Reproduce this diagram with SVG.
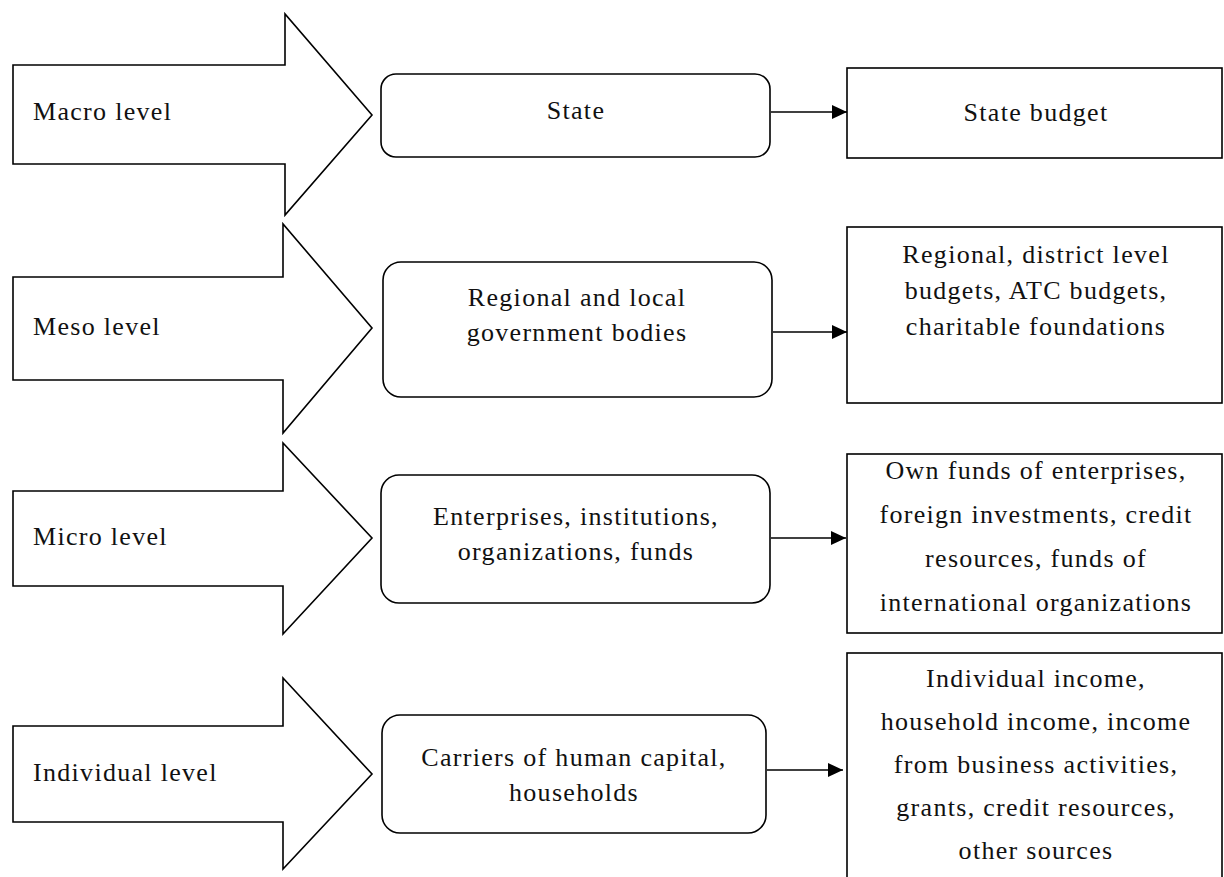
<svg xmlns="http://www.w3.org/2000/svg" width="1224" height="877" viewBox="0 0 1224 877">
  <defs>
    <marker id="head" markerUnits="userSpaceOnUse" markerWidth="16" markerHeight="14" refX="15" refY="7" orient="auto">
      <path d="M0,0 L15,7 L0,14 Z" fill="#000"/>
    </marker>
  </defs>
  <style>
    .shape { fill: #fff; stroke: #000; stroke-width: 1.6; }
    .lbl { font-family: "Liberation Serif", "Times New Roman", serif; font-size: 26px; letter-spacing: 1.3px; fill: #111; }
    .mid { text-anchor: middle; }
    .link { stroke: #000; stroke-width: 1.6; fill: none; marker-end: url(#head); }
  </style>
  <rect width="1224" height="877" fill="#fff"/>

  <!-- level arrows -->
  <g id="macro-level">
    <path class="shape" d="M13,65 H285 V14 L372,115 L285,215 V164 H13 Z"/>
    <text class="lbl" x="33" y="120">Macro level</text>
  </g>
  <g id="meso-level">
    <path class="shape" d="M13,277 H283 V224 L372,328 L283,433 V380 H13 Z"/>
    <text class="lbl" x="33" y="335">Meso level</text>
  </g>
  <g id="micro-level">
    <path class="shape" d="M13,491 H283 V443 L372,538 L283,634 V586 H13 Z"/>
    <text class="lbl" x="33" y="545">Micro level</text>
  </g>
  <g id="individual-level">
    <path class="shape" d="M13,726 H283 V678 L372,774 L283,869 V822 H13 Z"/>
    <text class="lbl" x="33" y="781">Individual level</text>
  </g>

  <!-- actors -->
  <g id="state">
    <rect class="shape" x="381" y="74" width="389" height="83" rx="15"/>
    <text class="lbl mid" x="576" y="119">State</text>
  </g>
  <g id="regional-bodies">
    <rect class="shape" x="383" y="262" width="389" height="135" rx="18"/>
    <text class="lbl mid" x="577" y="306">Regional and local</text>
    <text class="lbl mid" x="577" y="341">government bodies</text>
  </g>
  <g id="enterprises">
    <rect class="shape" x="381" y="475" width="389" height="128" rx="18"/>
    <text class="lbl mid" x="576" y="525">Enterprises, institutions,</text>
    <text class="lbl mid" x="576" y="560">organizations, funds</text>
  </g>
  <g id="households">
    <rect class="shape" x="382" y="715" width="384" height="118" rx="18"/>
    <text class="lbl mid" x="574" y="766">Carriers of human capital,</text>
    <text class="lbl mid" x="574" y="801">households</text>
  </g>

  <!-- funding sources -->
  <g id="state-budget">
    <rect class="shape" x="847" y="68" width="375" height="90"/>
    <text class="lbl mid" x="1036" y="121">State budget</text>
  </g>
  <g id="regional-budgets">
    <rect class="shape" x="847" y="227" width="375" height="176"/>
    <text class="lbl mid" x="1036" y="263">Regional, district level</text>
    <text class="lbl mid" x="1036" y="299">budgets, ATC budgets,</text>
    <text class="lbl mid" x="1036" y="335">charitable foundations</text>
  </g>
  <g id="enterprise-funds">
    <rect class="shape" x="847" y="454" width="375" height="179"/>
    <text class="lbl mid" x="1036" y="479">Own funds of enterprises,</text>
    <text class="lbl mid" x="1036" y="523">foreign investments, credit</text>
    <text class="lbl mid" x="1036" y="567">resources, funds of</text>
    <text class="lbl mid" x="1036" y="611">international organizations</text>
  </g>
  <g id="household-income">
    <rect class="shape" x="847" y="653" width="375" height="240"/>
    <text class="lbl mid" x="1036" y="687">Individual income,</text>
    <text class="lbl mid" x="1036" y="730">household income, income</text>
    <text class="lbl mid" x="1036" y="773">from business activities,</text>
    <text class="lbl mid" x="1036" y="816">grants, credit resources,</text>
    <text class="lbl mid" x="1036" y="859">other sources</text>
  </g>

  <!-- connectors -->
  <g id="connectors">
    <line class="link" x1="771" y1="112" x2="847" y2="112"/>
    <line class="link" x1="773" y1="332" x2="847" y2="332"/>
    <line class="link" x1="771" y1="538" x2="846" y2="538"/>
    <line class="link" x1="767" y1="770" x2="843" y2="770"/>
  </g>
</svg>
